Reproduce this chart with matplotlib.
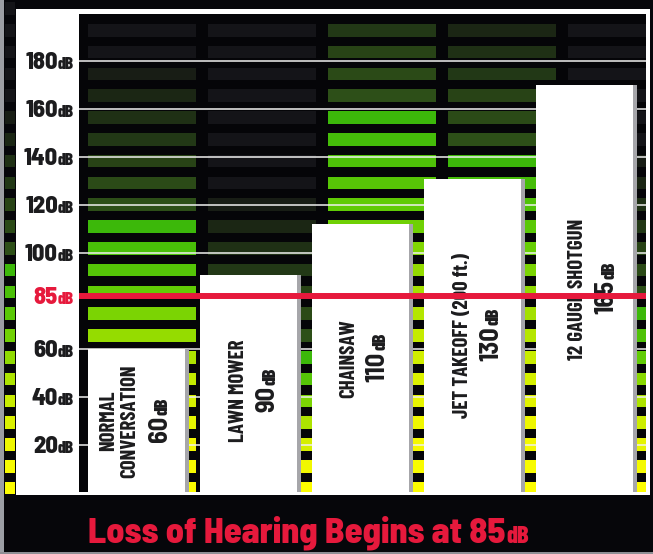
import matplotlib
matplotlib.use("Agg")
import matplotlib.pyplot as plt
from matplotlib.patches import Rectangle
from matplotlib.colors import LinearSegmentedColormap
from matplotlib.text import Annotation
from matplotlib import font_manager as fm

# ---------------- data ----------------
categories = ["NORMAL\nCONVERSATION", "LAWN MOWER", "CHAINSAW",
              "JET TAKEOFF (200 ft.)", "12 GAUGE SHOTGUN"]
loudness_db = [60, 90, 110, 130, 165]        # printed values
bar_top_db = [60, 91, 112, 131, 170]         # bar heights as drawn
tick_values = [20, 40, 60, 100, 120, 140, 160, 180]
threshold_db = 85                            # printed threshold
threshold_line_db = 82                       # where the red rule sits
title_text = "Loss of Hearing Begins at 85"
unit = "dB"

# ---------------- fonts ----------------
available = {f.name for f in fm.fontManager.ttflist}
def pick(*names):
    for n in names:
        if n in available:
            return n
    return "DejaVu Sans"
COND = pick("Barlow Condensed", "Archivo Narrow", "Asap Condensed", "Liberation Sans")
SEMI = pick("Barlow Semi Condensed", "Barlow Condensed", "Liberation Sans")

RED = "#e6193c"
INK = "#1c1c1e"

# ---------------- figure / background ----------------
W, H = 653, 554
fig = plt.figure(figsize=(W / 100, H / 100), dpi=100)
bg = fig.add_axes([0, 0, 1, 1])
bg.set_xlim(0, W)
bg.set_ylim(H, 0)
bg.axis("off")

def rect(x, y, w, h, c, z=0):
    bg.add_patch(Rectangle((x, y), w, h, facecolor=c, edgecolor="none", zorder=z))

rect(0, 0, W, H, "#06060a")
rect(16, 9, 634, 486, "white", 1)
rect(79, 14, 567, 478, "#050508", 2)
rect(0, 0, 3.5, H, "#9c9ea4", 3)
rect(0, 552, W, 2, "#8e8e94", 3)

meter = LinearSegmentedColormap.from_list(
    "meter", [(0, "#3cb80a"), (0.25, "#62cc05"), (0.42, "#96dc00"),
              (0.6, "#c8ec00"), (0.8, "#eef600"), (1, "#fdfd00")])
DIM = ["#2d4f18", "#2b4a17", "#284316", "#223816", "#1f3015",
       "#1b2614", "#181d15", "#141418"]
SEG_Y0, SEG_P, SEG_H, K_LAST = 24, 21.8, 12.5, 21

def seg_color(k, ktop):
    if k >= ktop:
        return meter((k - ktop) / max(K_LAST - ktop, 1))
    d = ktop - k
    return DIM[min(d, len(DIM)) - 1]

def draw_column(x0, x1, ktop, ylo, yhi, kmin=0):
    for k in range(kmin, K_LAST + 1):
        top = SEG_Y0 + SEG_P * k
        bot = top + SEG_H
        t, b = max(top, ylo), min(bot, yhi)
        if b <= t:
            continue
        rect(x0, t, x1 - x0, b - t, seg_color(k, ktop), 2.5)

for left, ktop in zip([88, 208, 328, 448, 568], [9, 15, 4, 6, 13]):
    draw_column(left, min(left + 108, 646), ktop, 14, 492)
draw_column(5, 15, 11, 0, 495, kmin=-1)

# ---------------- main axes ----------------
PX0, PX1, PY0, PY1 = 79, 646, 14, 492
ZERO_Y, PX_PER_DB = 493, 2.4
BAR0_X, BAR_STEP = 136.5, 112.1
ax = fig.add_axes([PX0 / W, 1 - PY1 / H, (PX1 - PX0) / W, (PY1 - PY0) / H])
ax.set_xlim((PX0 - BAR0_X) / BAR_STEP, (PX1 - BAR0_X) / BAR_STEP)
ax.set_ylim((ZERO_Y - PY1) / PX_PER_DB, (ZERO_Y - PY0) / PX_PER_DB)
ax.axis("off")

for v in tick_values:
    ax.axhline(v, color="#f0f0f0", lw=1.1, zorder=1)

xs = list(range(len(categories)))
BAR_W = 97 / BAR_STEP
ax.bar(xs, bar_top_db, width=BAR_W, color="white", linewidth=0, zorder=3)
ax.bar([i + BAR_W / 2 + 2 / BAR_STEP for i in xs], bar_top_db,
       width=4 / BAR_STEP, color="#a6a6aa", linewidth=0, zorder=3)

ax.axhline(threshold_line_db, color=RED, lw=4.3, zorder=6)

# ---------------- y labels ----------------
ytr = ax.get_yaxis_transform()
def tick_label(v, text, color):
    u = ax.annotate(unit, xy=(0, v), xycoords=ytr, xytext=(-5, -8),
                    textcoords="offset pixels", ha="right", va="baseline",
                    fontsize=12.5, fontweight=800, family=COND, color=color,
                    annotation_clip=False, zorder=7)
    ax.annotate(text, xy=(0, v), xycoords=(u, ytr), xytext=(0, -8),
                textcoords="offset pixels", ha="right", va="baseline",
                fontsize=17.5, fontweight=800, family=SEMI, color=color,
                annotation_clip=False, zorder=7)

for v in tick_values:
    tick_label(v, str(v), INK)
tick_label(threshold_line_db, str(threshold_db), RED)

# ---------------- bar labels ----------------
name_dx = [-17.3, -10.3, -12.4, -10.3, -7.4]
value_dx = [23.5, 18.9, 16.8, 18.2, 21.8]
group_dy = [0, -7, 0, 0, 0]
for i, (name, val, top) in enumerate(zip(categories, loudness_db, bar_top_db)):
    ax.annotate(name, xy=(i, top / 2), xytext=(name_dx[i], group_dy[i]),
                textcoords="offset pixels", rotation=90, ha="center", va="center",
                multialignment="center", linespacing=1.2,
                fontsize=15, fontweight=700, family=COND, color=INK, zorder=5)
    num = ax.annotate(str(val), xy=(i, top / 2), xytext=(value_dx[i], group_dy[i] - 8),
                      textcoords="offset pixels", rotation=90, ha="center", va="center",
                      fontsize=19, fontweight=700, family=SEMI, color=INK, zorder=5)
    ax.annotate(unit, xy=(1, 1), xycoords=num, xytext=(-1.5, 1),
                textcoords="offset pixels", rotation=90, ha="right", va="bottom",
                fontsize=13.5, fontweight=800, family=COND, color=INK, zorder=5)

# ---------------- footer title ----------------
t = fig.text(88 / W, 11 / H, title_text, ha="left", va="baseline",
             fontsize=26, fontweight=800, family=SEMI, color=RED)
fig.add_artist(Annotation(unit, xy=(1, 11), xycoords=(t, "figure pixels"),
                          xytext=(1, 0), textcoords="offset pixels",
                          ha="left", va="baseline", fontsize=17.5,
                          fontweight=800, family=COND, color=RED))

fig.savefig("out.png", dpi=100)
